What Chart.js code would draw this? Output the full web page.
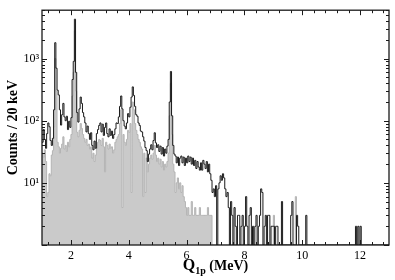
<!DOCTYPE html>
<html lang="en">
<head>
<meta charset="UTF-8">
<title>Q1p spectrum</title>
<script src="https://cdn.jsdelivr.net/npm/chart.js"></script>
<style>
  body { margin: 0; padding: 0; background: #fff; }
  .chart-wrapper { width: 395px; height: 280px; }
</style>
</head>
<body>
<div class="chart-wrapper"><canvas id="spectrumChart"></canvas></div>
<script>
  // histogram bins (MeV)
  const binStart = 1.0;
  const binWidth = 0.04;

  // total spectrum (black step line), 10 bins per row
  const countsAll = [
    45, 72, 50, 36, 62, 92, 80, 48, 40, 52,
    150, 1800, 700, 310, 260, 150, 85, 125, 190, 115,
    100, 118, 72, 98, 78, 112, 460, 900, 4300, 600,
    135, 95, 155, 240, 190, 135, 115, 92, 66, 82,
    62, 50, 64, 40, 34, 47, 36, 62, 72, 84,
    92, 66, 88, 58, 78, 92, 62, 55, 74, 58,
    68, 52, 60, 74, 92, 90, 115, 170, 250, 155,
    100, 82, 74, 92, 130, 115, 165, 240, 350, 255,
    170, 125, 118, 92, 84, 68, 66, 55, 47, 37,
    33, 22, 29, 35, 41, 34, 48, 64, 44, 37,
    41, 32, 39, 29, 37, 27, 35, 30, 39, 50,
    200, 620, 120, 40, 29, 27, 21, 26, 19, 25,
    27, 21, 26, 19, 25, 21, 27, 22, 26, 20,
    25, 19, 23, 17, 22, 18, 16, 21, 16, 23,
    20, 17, 22, 15, 20, 14, 11, 7, 8, 6,
    9, 1, 8, 10, 13, 11, 14, 12, 8, 6,
    7, 4, 0, 5, 3, 0, 4, 2, 0, 3,
    3, 0, 2, 3, 0, 2, 6, 2, 0, 3,
    4, 0, 2, 0, 2, 3, 0, 2, 3, 8,
    7, 0, 2, 3, 0, 3, 3, 0, 2, 2,
    2, 0, 2, 2, 0, 0, 0, 5, 0, 0,
    0, 0, 0, 0, 0, 3, 5, 0, 0, 0,
    3, 2, 0, 0, 0, 0, 0, 0, 3, 0,
    0, 0, 0, 0, 0, 0, 0, 0, 0, 0,
    0, 0, 0, 0, 0, 0, 0, 0, 0, 0,
    0, 0, 0, 0, 0, 0, 0, 0, 0, 0,
    0, 0, 0, 0, 0, 0, 0, 0, 0, 0,
    0, 2, 0, 2, 0, 2, 0, 0, 0, 0,
    0, 0, 0, 0, 0, 0, 0, 0, 0, 0,
    0, 0, 0, 0, 0, 0, 0, 0, 0, 0
  ];

  // second spectrum (grey filled)
  const countsGated = [
    30, 26, 34, 22, 6, 7, 14, 13, 28, 33,
    80, 1000, 300, 45, 38, 30, 36, 42, 55, 35,
    40, 32, 45, 38, 50, 60, 250, 600, 2800, 300,
    65, 55, 70, 90, 75, 60, 52, 45, 50, 40,
    42, 35, 38, 25, 30, 22, 28, 36, 45, 50,
    48, 40, 52, 38, 15, 45, 40, 35, 42, 36,
    38, 30, 34, 45, 50, 55, 60, 90, 150, 4,
    60, 45, 40, 50, 70, 65, 90, 7, 200, 150,
    90, 70, 60, 50, 45, 38, 35, 6, 30, 7,
    25, 15, 20, 25, 28, 24, 30, 40, 28, 22,
    25, 20, 24, 18, 22, 16, 20, 18, 22, 30,
    120, 400, 60, 20, 15, 7, 10, 12, 8, 10,
    7, 9, 6, 5, 4, 3, 4, 3, 3, 5,
    3, 3, 4, 3, 3, 3, 4, 3, 3, 3,
    3, 3, 3, 4, 3, 3, 3, 0, 0, 0,
    0, 0, 0, 0, 0, 0, 0, 0, 0, 0,
    0, 0, 0, 0, 0, 0, 0, 0, 0, 0,
    0, 0, 0, 0, 0, 0, 0, 0, 0, 0,
    0, 0, 0, 0, 0, 0, 0, 0, 0, 0,
    0, 0, 0, 0, 0, 0, 0, 0, 0, 0,
    3, 0, 0, 0, 0, 0, 0, 0, 0, 0,
    0, 0, 0, 0, 0, 0, 0, 0, 0, 6,
    0, 0, 0, 0, 1, 0, 0, 0, 0, 0,
    0, 0, 0, 0, 0, 0, 0, 0, 0, 0,
    0, 0, 0, 0, 0, 0, 0, 0, 0, 0,
    0, 0, 0, 0, 0, 0, 0, 0, 0, 0,
    0, 0, 0, 0, 0, 0, 0, 0, 0, 0,
    0, 0, 0, 0, 0, 0, 0, 0, 0, 0,
    0, 0, 0, 0, 0, 0, 0, 0, 0, 0,
    0, 0, 0, 0, 0, 0, 0, 0, 0, 0
  ];

  const xTickValues = [2, 4, 6, 8, 10, 12];
  const yTickValues = [10, 100, 1000];
  const yTickLabels = ['10¹', '10²', '10³'];
  const yTitle = 'Counts / 20 keV';
  const xTitleMain = 'Q';
  const xTitleSub = '1p';
  const xTitleUnit = ' (MeV)';

  // axis floor: empty bins are drawn down to it (log axis can't show 0)
  const yFloor = 1;

  // bin-edge points for a stepped line
  const toSteps = counts => {
    const pts = counts.map((c, i) => ({ x: binStart + i * binWidth, y: c > 0 ? c : yFloor }));
    pts.push({ x: binStart + counts.length * binWidth, y: pts[pts.length - 1].y });
    return pts;
  };

  const serif = "'Liberation Serif', 'Times New Roman', serif";

  // frame with inward ticks on all four sides, plus axis titles
  const framePlugin = {
    id: 'frame',
    afterDatasetsDraw(chart) {
      const { ctx, chartArea: a, scales: { x, y } } = chart;
      ctx.save();
      ctx.strokeStyle = '#1a1a1a';
      ctx.lineWidth = 1;
      ctx.beginPath();
      for (let k = 0; k < 30; k++) {
        const v = 1.2 + 0.4 * k;
        if (v > x.max) break;
        const r = Math.round(v);
        const len = (Math.abs(v - r) < 1e-6 && r % 2 === 0) ? 5 : 3;
        const px = Math.round(x.getPixelForValue(v)) + 0.5;
        ctx.moveTo(px, a.bottom); ctx.lineTo(px, a.bottom - len);
        ctx.moveTo(px, a.top); ctx.lineTo(px, a.top + len);
      }
      for (let d = 1; d <= y.max; d *= 10) {
        for (let m = 1; m <= 9; m++) {
          const v = m * d;
          if (v > y.max) break;
          const len = m === 1 ? 5 : 3;
          const py = Math.round(y.getPixelForValue(v)) + 0.5;
          ctx.moveTo(a.left, py); ctx.lineTo(a.left + len, py);
          ctx.moveTo(a.right, py); ctx.lineTo(a.right - len, py);
        }
      }
      ctx.stroke();
      ctx.lineWidth = 1.3;
      ctx.strokeRect(a.left, a.top, a.right - a.left, a.bottom - a.top);
      ctx.restore();
    },
    afterDraw(chart) {
      const { ctx, chartArea: a } = chart;
      ctx.save();
      ctx.fillStyle = '#000';
      ctx.textBaseline = 'alphabetic';
      // y title
      ctx.save();
      ctx.translate(17, (a.top + a.bottom) / 2);
      ctx.rotate(-Math.PI / 2);
      ctx.font = 'bold 14px ' + serif;
      ctx.textAlign = 'center';
      ctx.fillText(yTitle, 0, 0);
      ctx.restore();
      // x title with subscript
      const fMain = 'bold 16px ' + serif;
      const fSub = 'bold 10px ' + serif;
      const fUnit = 'bold 14px ' + serif;
      ctx.font = fMain; const wQ = ctx.measureText(xTitleMain).width;
      ctx.font = fSub; const wS = ctx.measureText(xTitleSub).width;
      ctx.font = fUnit; const wU = ctx.measureText(xTitleUnit).width;
      let tx = (a.left + a.right) / 2 - (wQ + wS + wU) / 2;
      const base = 270;
      ctx.textAlign = 'left';
      ctx.font = fMain; ctx.fillText(xTitleMain, tx, base); tx += wQ;
      ctx.font = fSub; ctx.fillText(xTitleSub, tx, base + 4); tx += wS;
      ctx.font = fUnit; ctx.fillText(xTitleUnit, tx, base);
      ctx.restore();
    }
  };

  new Chart(document.getElementById('spectrumChart').getContext('2d'), {
    type: 'line',
    data: {
      datasets: [
        {
          label: 'all',
          data: toSteps(countsAll),
          stepped: 'before',
          borderColor: '#1a1a1a',
          borderWidth: 1,
          pointRadius: 0,
          fill: false
        },
        {
          label: 'gated',
          data: toSteps(countsGated),
          stepped: 'before',
          borderColor: '#b4b4b4',
          borderWidth: 1,
          backgroundColor: '#cacaca',
          pointRadius: 0,
          fill: 'start'
        }
      ]
    },
    options: {
      responsive: true,
      maintainAspectRatio: false,
      animation: false,
      layout: { padding: { top: 3, right: 6, left: 0, bottom: 0 } },
      plugins: { legend: { display: false }, tooltip: { enabled: false } },
      scales: {
        x: {
          type: 'linear',
          min: 1,
          max: 13,
          grid: { display: false, drawTicks: false },
          border: { display: false },
          afterBuildTicks: s => { s.ticks = xTickValues.map(v => ({ value: v })); },
          afterFit: s => { s.height = 35; },
          ticks: {
            padding: 4,
            maxRotation: 0,
            color: '#000',
            font: { family: serif, size: 12 },
            callback: v => String(v)
          }
        },
        y: {
          type: 'logarithmic',
          min: yFloor,
          max: 6000,
          grid: { display: false, drawTicks: false },
          border: { display: false },
          afterBuildTicks: s => { s.ticks = yTickValues.map(v => ({ value: v })); },
          afterFit: s => { s.width = 42; },
          ticks: {
            padding: 3,
            color: '#000',
            font: { family: serif, size: 12 },
            callback: v => yTickLabels[yTickValues.indexOf(v)]
          }
        }
      }
    },
    plugins: [framePlugin]
  });
</script>
</body>
</html>
